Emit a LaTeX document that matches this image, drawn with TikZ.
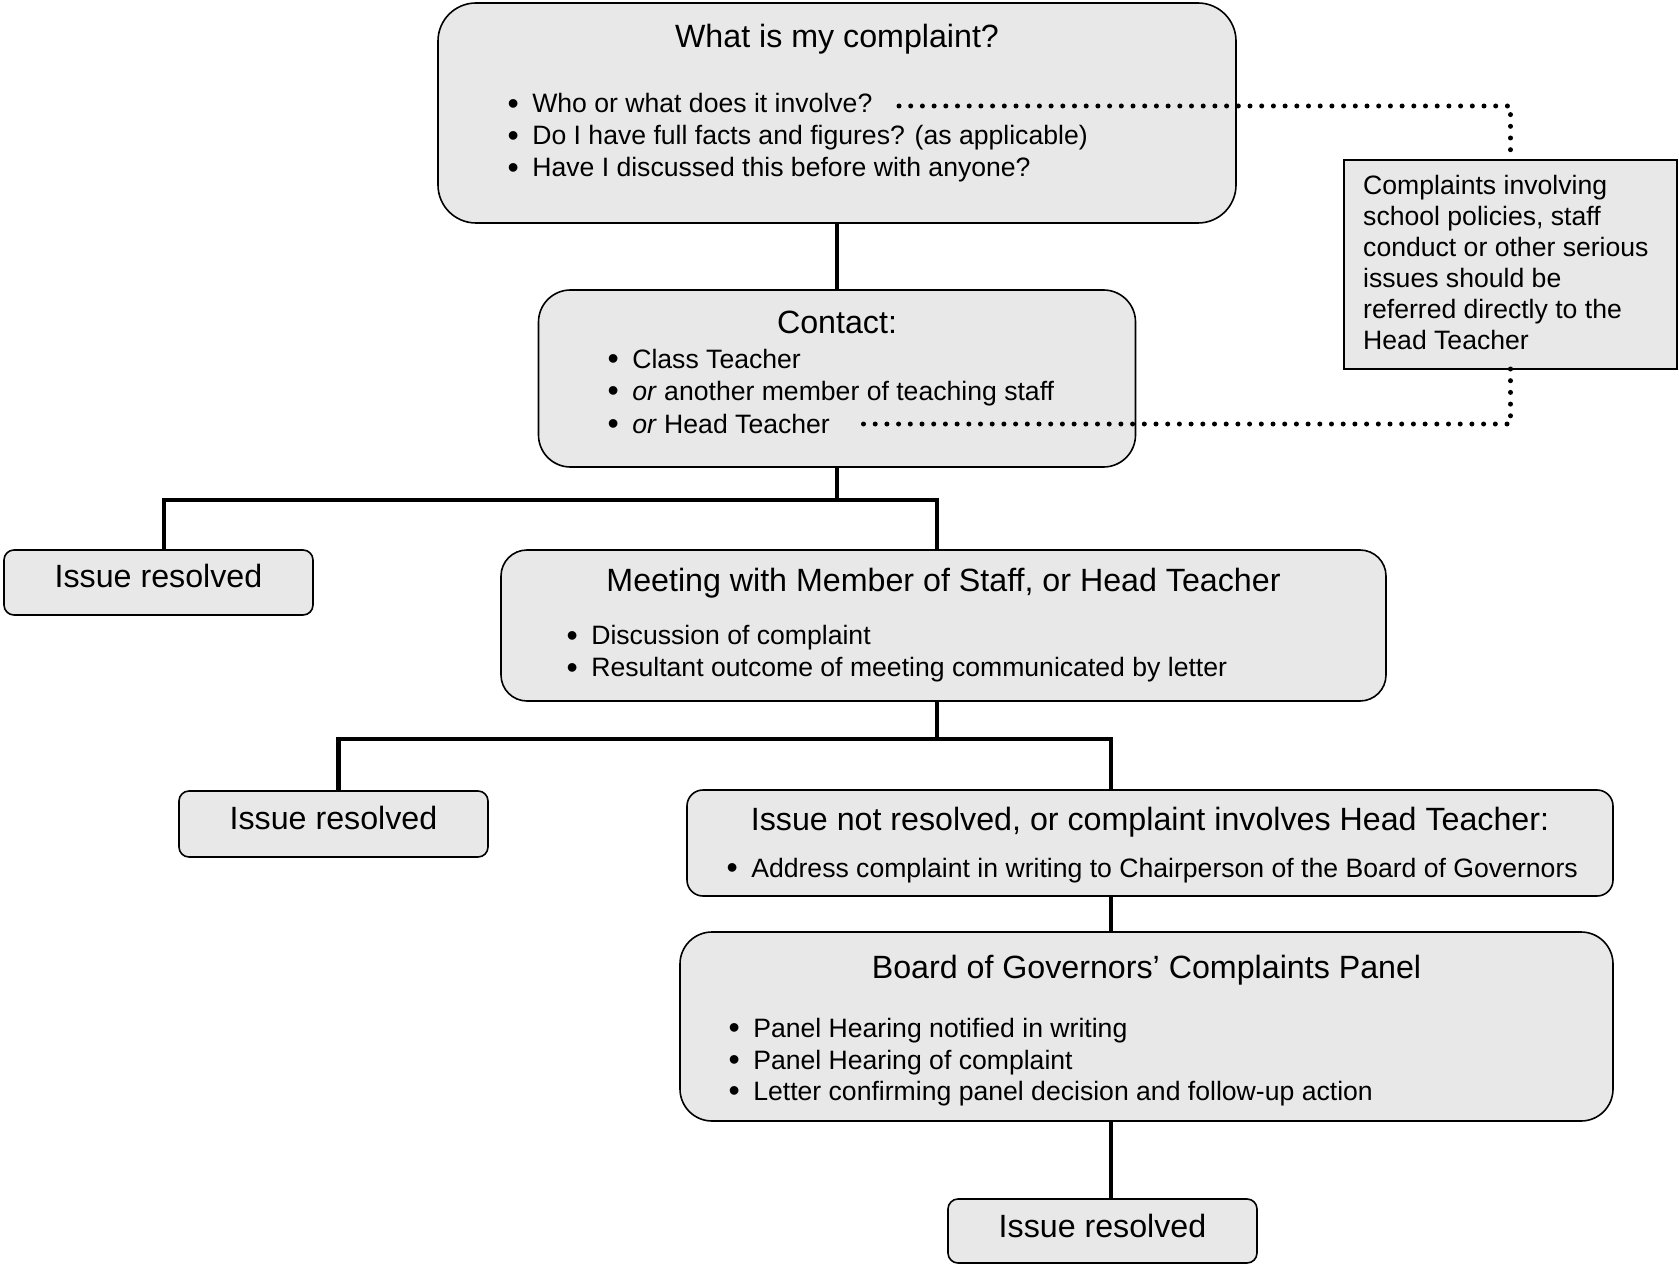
\documentclass[tikz,border=0pt]{standalone}
\usepackage{fontspec}
\setmainfont{Liberation Sans}
\usetikzlibrary{calc}
\definecolor{boxfill}{RGB}{232,232,232}
\newcommand{\ttlfont}{\fontsize{32.2}{38}\selectfont}
\newcommand{\bdyfont}{\fontsize{26.6}{31}\selectfont}
\newcommand{\itm}[1]{\raisebox{-1.6pt}{\fontsize{32}{32}\selectfont\textbullet}\hspace{13.4pt}#1}
\begin{document}
\begin{tikzpicture}[x=1pt,y=-1pt,
 box/.style={draw=black, line width=1.6pt, fill=boxfill, inner sep=0pt, outer sep=0pt},
 ttl/.style={anchor=base, inner sep=0pt, font=\ttlfont},
 item/.style={anchor=base west, inner sep=0pt, font=\bdyfont},
 conn/.style={line width=4.3pt},
 dots/.style={line width=5pt, line cap=round, dash pattern=on 0pt off 11.7pt}]
\useasboundingbox (0,0) rectangle (1679,1265);

% boxes
\node[box, rounded corners=38pt, minimum width=798pt, minimum height=220pt] (q) at (837,113) {};
\node[box, minimum width=333pt, minimum height=209pt] (side) at (1510.5,264.5) {};
\node[box, rounded corners=32pt, minimum width=597pt, minimum height=177pt] (contact) at (837,378.5) {};
\node[box, rounded corners=10pt, minimum width=309pt, minimum height=65pt] (ir1) at (158.5,582.5) {};
\node[box, rounded corners=26pt, minimum width=885pt, minimum height=151pt] (meet) at (943.5,625.5) {};
\node[box, rounded corners=10pt, minimum width=309pt, minimum height=66pt] (ir2) at (333.5,824) {};
\node[box, rounded corners=16pt, minimum width=926pt, minimum height=106pt] (nr) at (1150,843) {};
\node[box, rounded corners=32pt, minimum width=933pt, minimum height=189pt] (board) at (1146.5,1026.5) {};
\node[box, rounded corners=10pt, minimum width=309pt, minimum height=64pt] (ir3) at (1102.5,1231) {};

% texts: question box
\node[ttl] (qt) at (837,48) {What is my complaint?};
\node[item] (q1) at (507.5,113) {\itm{Who or what does it involve?}};
\node[item] (q2) at (507.5,145) {\itm{Do I have full facts and figures? (as applicable)}};
\node[item] (q3) at (507.5,177) {\itm{Have I discussed this before with anyone?}};

% side box
\node[item] (s1) at (1363,195) {Complaints involving};
\node[item] (s2) at (1363,226) {school policies, staff};
\node[item] (s3) at (1363,257) {conduct or other serious};
\node[item] (s4) at (1363,288) {issues should be};
\node[item] (s5) at (1363,318.5) {referred directly to the};
\node[item] (s6) at (1363,349) {Head Teacher};

% contact box
\node[ttl] (ct) at (837,334) {Contact:};
\node[item] (c1) at (607.5,368) {\itm{Class Teacher}};
\node[item] (c2) at (607.5,400) {\itm{\textit{or} another member of teaching staff}};
\node[item] (c3) at (607.5,433) {\itm{\textit{or} Head Teacher}};

% issue resolved 1
\node[ttl] (ir1t) at (158.5,587) {Issue resolved};

% meeting box
\node[ttl] (mt) at (943.5,591) {Meeting with Member of Staff, or Head Teacher};
\node[item] (m1) at (566.5,644.5) {\itm{Discussion of complaint}};
\node[item] (m2) at (566.5,676.5) {\itm{Resultant outcome of meeting communicated by letter}};

% issue resolved 2
\node[ttl] (ir2t) at (333.5,829) {Issue resolved};

% not resolved box
\node[ttl] (nrt) at (1150,830) {Issue not resolved, or complaint involves Head Teacher:};
\node[item] (n1) at (726.5,877) {\itm{Address complaint in writing to Chairperson of the Board of Governors}};

% board box
\node[ttl] (bt) at (1146.5,978) {Board of Governors’ Complaints Panel};
\node[item] (b1) at (728.5,1037) {\itm{Panel Hearing notified in writing}};
\node[item] (b2) at (728.5,1069) {\itm{Panel Hearing of complaint}};
\node[item] (b3) at (728.5,1100) {\itm{Letter confirming panel decision and follow-up action}};

% issue resolved 3
\node[ttl] (ir3t) at (1102.5,1237) {Issue resolved};

% junction coordinates
\coordinate (j1) at (837,500);
\coordinate (j1r) at (937,500);
\coordinate (j2) at (937,739);
\coordinate (j2r) at (1111,739);

% connectors
\draw[conn] (q.south) -- (contact.north);
\draw[conn] (contact.south) -- (j1);
\draw[conn] ([xshift=5.5pt]ir1.north) |- (j1r) -- (j1r |- meet.north);
\draw[conn] (j2 |- meet.south) -- (j2);
\draw[conn] ([xshift=5pt]ir2.north) |- (j2r) -- (j2r |- nr.north);
\draw[conn] (j2r |- nr.south) -- (j2r |- board.north);
\draw[conn] (j2r |- board.south) -- (j2r |- ir3.north);

% dotted connectors
\coordinate (d1) at (899,106);
\coordinate (d2) at (860,424);
\draw[dots] (d1) -| (side.north);
\draw[dots] (side.south) |- (d2);
\end{tikzpicture}
\end{document}
